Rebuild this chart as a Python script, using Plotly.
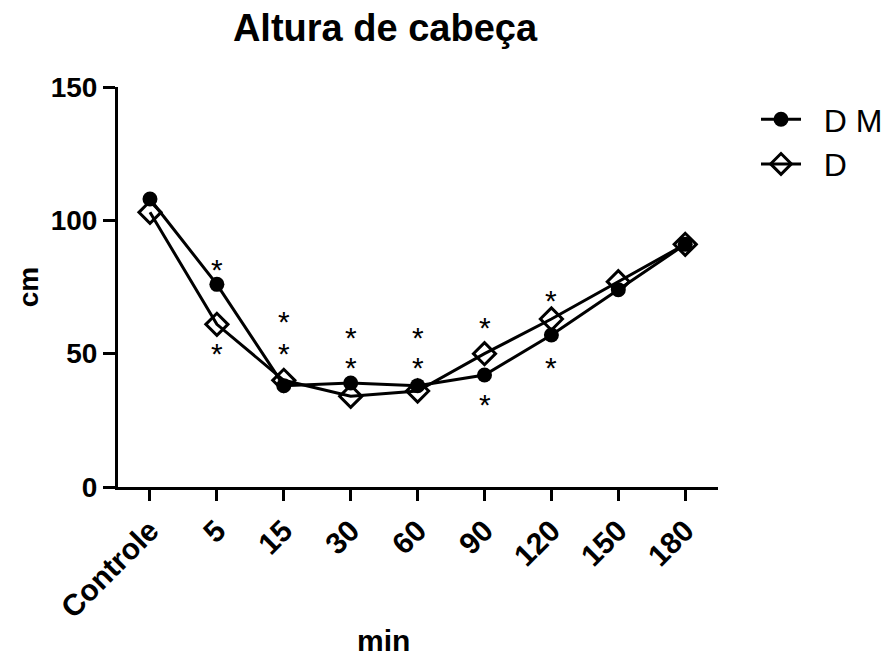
import plotly.graph_objects as go

categories = ["Controle", "5", "15", "30", "60", "90", "120", "150", "180"]
dm_values = [108, 76, 38, 39, 38, 42, 57, 74, 91]
d_values = [103, 61, 40, 34, 36, 50, 63, 77, 91]
# significance markers: (category index, y position)
star_x = [1, 1, 2, 2, 3, 3, 4, 4, 5, 5, 6, 6]
star_y = [83.5, 52, 64, 52, 58, 47, 58, 47, 62, 33, 72, 47]

xs = list(range(len(categories)))
font_family = "Liberation Sans, Arial, sans-serif"

fig = go.Figure()
fig.add_trace(go.Scatter(
    x=xs, y=dm_values, name="\u00a0\u00a0D M", mode="lines+markers",
    line=dict(color="black", width=3),
    marker=dict(symbol="circle", size=15, color="black"),
))
fig.add_trace(go.Scatter(
    x=xs, y=d_values, name="\u00a0\u00a0D", mode="lines+markers",
    line=dict(color="black", width=3),
    marker=dict(symbol="diamond-open", size=17, color="black",
                line=dict(color="black", width=3)),
))

for sx, sy in zip(star_x, star_y):
    fig.add_annotation(x=sx, y=sy, text="*", showarrow=False,
                       font=dict(size=30, color="black", family=font_family),
                       height=22, valign="middle", yshift=-5)

fig.add_annotation(x=(383 - 118) / 600, y=-(640 - 486.7) / 400,
                   xref="paper", yref="paper", text="<b>min</b>",
                   showarrow=False, font=dict(size=30, color="black"),
                   yanchor="middle")

fig.update_layout(
    width=893, height=660,
    paper_bgcolor="white", plot_bgcolor="white",
    margin=dict(l=118, r=175, t=87, b=173, autoexpand=False),
    font=dict(family=font_family, color="black"),
    title=dict(text="<b>Altura de cabeça</b>", x=385 / 893, xanchor="center",
               y=1 - 28 / 660, yanchor="middle", font=dict(size=38)),
    legend=dict(x=756 / 893, y=1 - 92 / 660, xref="container", yref="container",
                xanchor="left", yanchor="top",
                font=dict(size=32), itemwidth=40),
    showlegend=True,
)

fig.update_xaxes(
    range=[-0.478, 8.49], tickmode="array", tickvals=xs, ticktext=categories,
    tickangle=-45, tickfont=dict(size=30, family=font_family, weight="bold"),
    showline=True, linecolor="black", linewidth=3,
    ticks="outside", ticklen=11, tickwidth=3, tickcolor="black",
    showgrid=False, zeroline=False, automargin=False,
)
fig.update_yaxes(
    range=[0, 150], tickvals=[0, 50, 100, 150],
    tickfont=dict(size=28, family=font_family, weight="bold"),
    showline=True, linecolor="black", linewidth=3,
    ticks="outside", ticklen=12, tickwidth=3, tickcolor="black",
    showgrid=False, zeroline=False, automargin=False,
    title=dict(text="<b>cm</b>", font=dict(size=28), standoff=4),
)

fig.write_html("out.html", config={"displayModeBar": False},
               post_script="document.body.style.margin='0px';")
